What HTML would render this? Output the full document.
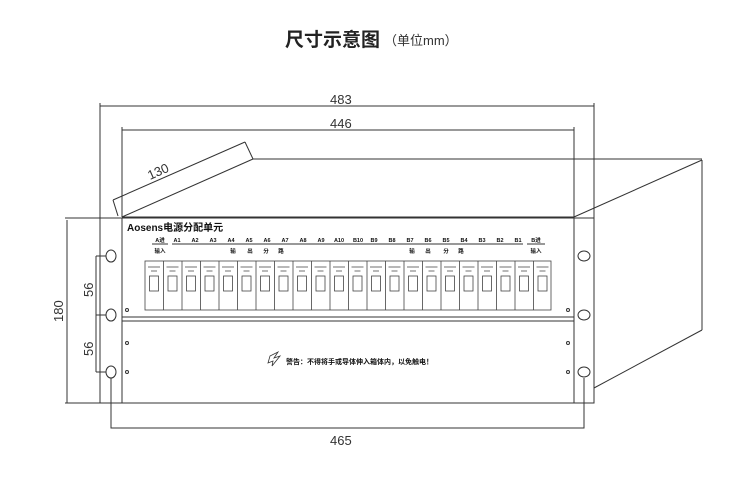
<!DOCTYPE html>
<html><head><meta charset="utf-8"><style>
body{margin:0;background:#fff;}
svg{display:block;font-family:"Liberation Sans","Noto Sans CJK SC",sans-serif;}
</style></head><body>
<svg width="750" height="482" viewBox="0 0 750 482" xmlns="http://www.w3.org/2000/svg">
<text x="285" y="46" font-size="19" font-weight="bold" fill="#222">尺寸示意图</text>
<text x="384" y="45" font-size="13" fill="#333">（单位mm）</text>
<g stroke="#333" fill="none" stroke-width="1">
<!-- 483 -->
<line x1="100" y1="106" x2="594" y2="106"/>
<line x1="100" y1="103" x2="100" y2="218"/>
<line x1="594" y1="103" x2="594" y2="218"/>
<!-- 446 -->
<line x1="122" y1="130" x2="574" y2="130"/>
<line x1="122" y1="127" x2="122" y2="217"/>
<line x1="574" y1="127" x2="574" y2="217"/>
<!-- top box -->
<line x1="253" y1="159" x2="702" y2="159"/>
<line x1="122" y1="217" x2="253" y2="159"/>
<line x1="574" y1="217" x2="702" y2="160"/>
<line x1="702" y1="160" x2="702" y2="330"/>
<line x1="702" y1="330" x2="594" y2="388"/>
<!-- 130 strip -->
<line x1="113" y1="200" x2="245" y2="142"/>
<line x1="113" y1="200" x2="118" y2="216"/>
<line x1="245" y1="142" x2="253" y2="159"/>
<!-- front panel -->
<line x1="65" y1="218" x2="594" y2="218"/>
<line x1="122" y1="217" x2="574" y2="217"/>
<rect x="100" y="218" width="494" height="185"/>
<line x1="65" y1="403" x2="100" y2="403"/>
<line x1="122" y1="218" x2="122" y2="403"/>
<line x1="574" y1="218" x2="574" y2="403"/>
<line x1="122" y1="317" x2="574" y2="317"/>
<line x1="122" y1="321" x2="574" y2="321"/>
<!-- 180 -->
<line x1="67" y1="220" x2="67" y2="403"/>
<!-- 56 -->
<line x1="96" y1="256" x2="96" y2="372"/>
<line x1="96" y1="256" x2="106" y2="256"/>
<line x1="96" y1="315" x2="106" y2="315"/>
<line x1="96" y1="372" x2="106" y2="372"/>
<!-- holes -->
<ellipse cx="111" cy="256" rx="5" ry="6"/>
<ellipse cx="111" cy="315" rx="5" ry="6"/>
<ellipse cx="111" cy="372" rx="5" ry="6"/>
<ellipse cx="584" cy="256" rx="6" ry="5"/>
<ellipse cx="584" cy="315" rx="6" ry="5"/>
<ellipse cx="584" cy="372" rx="6" ry="5"/>
<!-- 465 -->
<polyline points="111,378 111,428 584,428 584,378"/>
<!-- screws -->
<circle cx="127" cy="310" r="1.5"/><circle cx="127" cy="343" r="1.5"/><circle cx="127" cy="372" r="1.5"/>
<circle cx="568" cy="310" r="1.5"/><circle cx="568" cy="343" r="1.5"/><circle cx="568" cy="372" r="1.5"/>
<!-- label underlines -->
<line x1="152" y1="244" x2="168" y2="244"/>
<line x1="172" y1="244" x2="523" y2="244"/>
<line x1="527" y1="244" x2="545" y2="244"/>
</g>
<g font-size="13" fill="#333">
<text x="330" y="104">483</text>
<text x="330" y="128">446</text>
<text x="330" y="445">465</text>
<text transform="translate(150,180) rotate(-24)">130</text>
<text transform="translate(63,322) rotate(-90)">180</text>
<text transform="translate(93,297) rotate(-90)">56</text>
<text transform="translate(93,356) rotate(-90)">56</text>
</g>
<text x="127" y="231" font-size="10" font-weight="bold" fill="#111">Aosens电源分配单元</text>
<g font-size="5.5" font-weight="bold" fill="#111" text-anchor="middle">
<text x="160" y="242">A进</text><text x="177" y="242">A1</text><text x="195" y="242">A2</text><text x="213" y="242">A3</text><text x="231" y="242">A4</text><text x="249" y="242">A5</text><text x="267" y="242">A6</text><text x="285" y="242">A7</text><text x="303" y="242">A8</text><text x="321" y="242">A9</text><text x="339" y="242">A10</text><text x="358" y="242">B10</text><text x="374" y="242">B9</text><text x="392" y="242">B8</text><text x="410" y="242">B7</text><text x="428" y="242">B6</text><text x="446" y="242">B5</text><text x="464" y="242">B4</text><text x="482" y="242">B3</text><text x="500" y="242">B2</text><text x="518" y="242">B1</text><text x="536" y="242">B进</text>
<text x="160" y="253">输入</text><text x="536" y="253">输入</text>
<text x="233" y="253">输</text><text x="250" y="253">出</text><text x="266" y="253">分</text><text x="281" y="253">路</text>
<text x="412" y="253">输</text><text x="428" y="253">出</text><text x="446" y="253">分</text><text x="461" y="253">路</text>
</g>
<g id="br" stroke="#444" fill="none" stroke-width="0.8"></g>
<g stroke="#444" fill="none" stroke-width="0.8">
<rect x="145" y="261" width="406" height="49"/>
<path d="M163.5 261V310M182 261V310M200.5 261V310M219 261V310M237.5 261V310M256 261V310M274.5 261V310M293 261V310M311.5 261V310M330 261V310M348.5 261V310M367 261V310M385.5 261V310M404 261V310M422.5 261V310M441 261V310M459.5 261V310M478 261V310M496.5 261V310M515 261V310M533.5 261V310"/>
</g>
<g stroke="#444" fill="none" stroke-width="0.8">
<rect x="149.5" y="276" width="9" height="15"/><rect x="168" y="276" width="9" height="15"/><rect x="186.5" y="276" width="9" height="15"/><rect x="205" y="276" width="9" height="15"/><rect x="223.5" y="276" width="9" height="15"/><rect x="242" y="276" width="9" height="15"/><rect x="260.5" y="276" width="9" height="15"/><rect x="279" y="276" width="9" height="15"/><rect x="297.5" y="276" width="9" height="15"/><rect x="316" y="276" width="9" height="15"/><rect x="334.5" y="276" width="9" height="15"/><rect x="353" y="276" width="9" height="15"/><rect x="371.5" y="276" width="9" height="15"/><rect x="390" y="276" width="9" height="15"/><rect x="408.5" y="276" width="9" height="15"/><rect x="427" y="276" width="9" height="15"/><rect x="445.5" y="276" width="9" height="15"/><rect x="464" y="276" width="9" height="15"/><rect x="482.5" y="276" width="9" height="15"/><rect x="501" y="276" width="9" height="15"/><rect x="519.5" y="276" width="9" height="15"/><rect x="538" y="276" width="9" height="15"/>
<path d="M148 267h12M166.5 267h12M185 267h12M203.5 267h12M222 267h12M240.5 267h12M259 267h12M277.5 267h12M296 267h12M314.5 267h12M333 267h12M351.5 267h12M370 267h12M388.5 267h12M407 267h12M425.5 267h12M444 267h12M462.5 267h12M481 267h12M499.5 267h12M518 267h12M536.5 267h12"/>
<path d="M151 271h6M169.5 271h6M188 271h6M206.5 271h6M225 271h6M243.5 271h6M262 271h6M280.5 271h6M299 271h6M317.5 271h6M336 271h6M354.5 271h6M373 271h6M391.5 271h6M410 271h6M428.5 271h6M447 271h6M465.5 271h6M484 271h6M502.5 271h6M521 271h6M539.5 271h6"/>
</g>
<path d="M270 356l8-4-4 6 6-2-8 10 1-5-5 2z" fill="none" stroke="#333" stroke-width="0.8"/>
<text x="286" y="364" font-size="7" font-weight="bold" fill="#111">警告：不得将手或导体伸入箱体内，以免触电！</text>
</svg>
</body></html>
